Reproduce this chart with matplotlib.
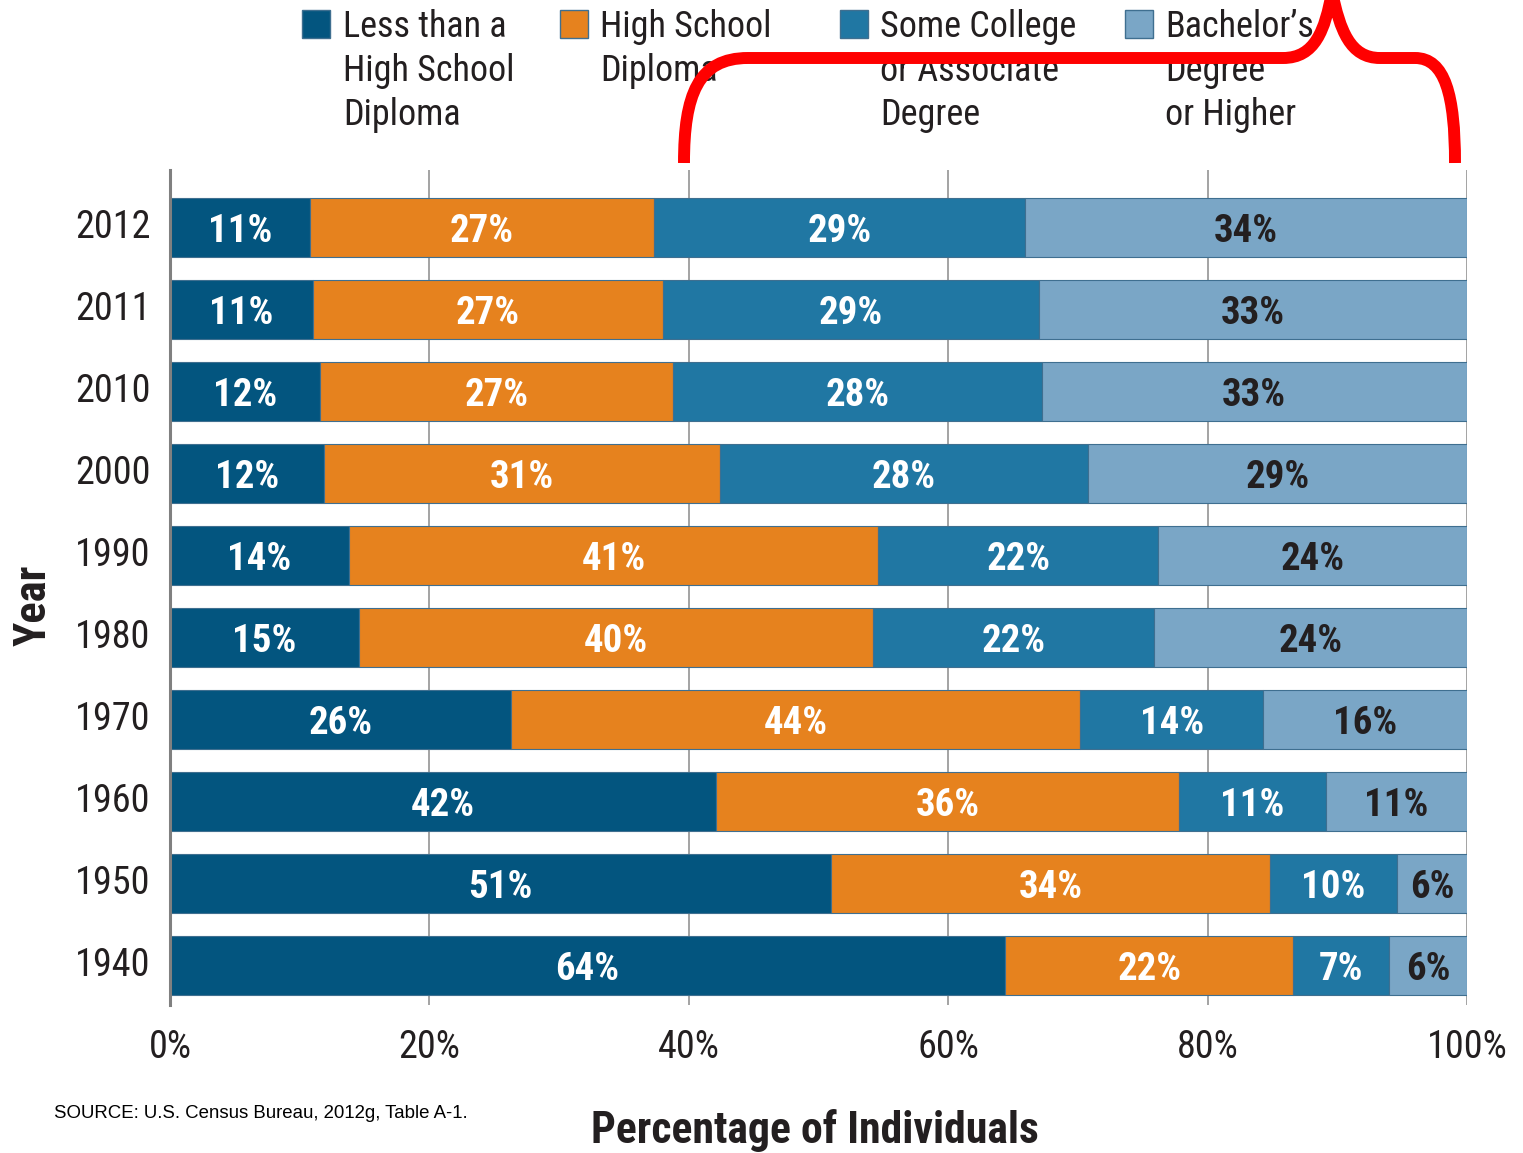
#!/usr/bin/env python3
import numpy as np
from matplotlib import pyplot as plt
from matplotlib import transforms
from matplotlib.path import Path
from matplotlib.patches import PathPatch, Rectangle


YEARS = ['2012', '2011', '2010', '2000', '1990', '1980', '1970', '1960', '1950', '1940']

CATEGORIES = [
    "Less than a\nHigh School\nDiploma",
    "High School\nDiploma",
    "Some College\nor Associate\nDegree",
    "Bachelor\u2019s\nDegree\nor Higher",
]

# segment widths (percent)
less_than_hs = [10.8, 11.0, 11.6, 11.9, 13.8, 14.6, 26.3, 42.1, 51.0, 64.4]
high_school = [26.5, 27.0, 27.2, 30.5, 40.8, 39.6, 43.9, 35.7, 33.8, 22.2]
some_college = [28.6, 29.0, 28.4, 28.4, 21.6, 21.7, 14.1, 11.3, 9.8, 7.4]
bachelors = [34.1, 33.0, 32.8, 29.2, 23.8, 24.1, 15.7, 10.9, 5.5, 6.0]

# printed labels
less_than_hs_lbl = ['11%', '11%', '12%', '12%', '14%', '15%', '26%', '42%', '51%', '64%']
high_school_lbl = ['27%', '27%', '27%', '31%', '41%', '40%', '44%', '36%', '34%', '22%']
some_college_lbl = ['29%', '29%', '28%', '28%', '22%', '22%', '14%', '11%', '10%', '7%']
bachelors_lbl = ['34%', '33%', '33%', '29%', '24%', '24%', '16%', '11%', '6%', '6%']

XTICKS = [0, 20, 40, 60, 80, 100]

COLORS = ['#03557f', '#e6821e', '#2077a3', '#7aa6c6']
LABEL_COLORS = ['white', 'white', 'white', '#231f20']
TEXT = '#231f20'
FONT = ['Roboto Condensed', 'DejaVu Sans']

W, H = 1523, 1153


def fx(px):
    return px / W


def fy(py):
    return 1 - py / H


def main():
    plt.rcParams['font.family'] = FONT
    fig = plt.figure(figsize=(W / 100, H / 100), dpi=100)
    ax = fig.add_axes([fx(170), fy(1005), fx(1467) - fx(170), fy(170) - fy(1005)])

    series = [less_than_hs, high_school, some_college, bachelors]
    labels = [less_than_hs_lbl, high_school_lbl, some_college_lbl, bachelors_lbl]
    y = np.arange(len(YEARS))
    left = np.zeros(len(YEARS))
    lbl_size = 28
    for vals, lbls, color, tcolor in zip(series, labels, COLORS, LABEL_COLORS):
        vals = np.array(vals)
        ax.barh(y, vals, left=left, height=0.72, color=color,
                edgecolor='#3f6f90', linewidth=0.8, zorder=2)
        for yi, (l, v, t) in enumerate(zip(left, vals, lbls)):
            # baseline shifted down by half a cap height so the digits sit mid-bar
            ax.annotate(t, (l + v / 2, yi), xytext=(0, -0.711 * lbl_size / 2),
                        textcoords='offset points', ha='center', va='baseline',
                        color=tcolor, fontsize=lbl_size, fontweight='bold', zorder=3)
        left = left + vals

    ax.set_xlim(0, 100)
    ax.set_ylim(len(YEARS) - 1 + 0.476, -0.707)
    ax.set_yticks(y)
    ax.set_yticklabels(YEARS, fontsize=27.5, color=TEXT)
    ax.set_xticks(XTICKS)
    ax.set_xticklabels([f"{v}%" for v in XTICKS], fontsize=27.5, color=TEXT)
    ax.tick_params(axis='both', length=0)
    ax.tick_params(axis='x', pad=17)
    ax.tick_params(axis='y', pad=14)
    up = transforms.ScaledTranslation(0, 4 / 100, fig.dpi_scale_trans)
    for lbl in ax.get_yticklabels():
        lbl.set_transform(lbl.get_transform() + up)
    ax.grid(axis='x', color='#939393', linewidth=1.2)
    ax.set_axisbelow(True)
    for side in ('top', 'right', 'bottom'):
        ax.spines[side].set_visible(False)
    ax.spines['left'].set_color('#808080')
    ax.spines['left'].set_linewidth(2.2)

    fig.text(fx(815), fy(1143), "Percentage of Individuals", ha='center', va='baseline',
             fontsize=31.5, fontweight='bold', color=TEXT)
    fig.text(fx(46), fy(605), "Year", ha='center', va='baseline', rotation=90,
             rotation_mode='anchor', fontsize=32, fontweight='bold', color=TEXT)
    fig.text(fx(54), fy(1113), "SOURCE: U.S. Census Bureau, 2012g, Table A-1.",
             ha='left', va='center', fontsize=13.4, color='black',
             family=['Liberation Sans', 'DejaVu Sans'])

    # legend drawn by hand so the swatch sits on the first line
    sq_x = [302, 560, 840, 1125]
    txt_x = [343, 600, 880, 1165]
    for sx, tx, lab, color in zip(sq_x, txt_x, CATEGORIES, COLORS):
        fig.patches.append(Rectangle((fx(sx), fy(38)), fx(28), 28 / H, transform=fig.transFigure,
                                     facecolor=color, edgecolor='#3f6f90', linewidth=1))
        for i, line in enumerate(lab.split('\n')):
            fig.text(fx(tx), fy(37 + 44 * i), line, ha='left', va='baseline',
                     fontsize=26, color=TEXT)

    # red brace
    pts = [(684, 163), (684, 95), (698, 58), (748, 58),
           (1283, 58),
           (1315, 58), (1325, 30), (1332, -8),
           (1340, 30), (1350, 58), (1380, 58),
           (1415, 58),
           (1445, 58), (1455, 95), (1455, 163)]
    codes = [Path.MOVETO, Path.CURVE4, Path.CURVE4, Path.CURVE4,
             Path.LINETO,
             Path.CURVE4, Path.CURVE4, Path.CURVE4,
             Path.CURVE4, Path.CURVE4, Path.CURVE4,
             Path.LINETO,
             Path.CURVE4, Path.CURVE4, Path.CURVE4]
    brace = Path([(fx(px), fy(py)) for px, py in pts], codes)
    fig.patches.append(PathPatch(brace, transform=fig.transFigure, facecolor='none',
                                 edgecolor='#ff0000', linewidth=8.6, capstyle='butt',
                                 joinstyle='round', zorder=10))

    fig.savefig('out.png', dpi=100)
    plt.close(fig)


if __name__ == "__main__":
    main()
